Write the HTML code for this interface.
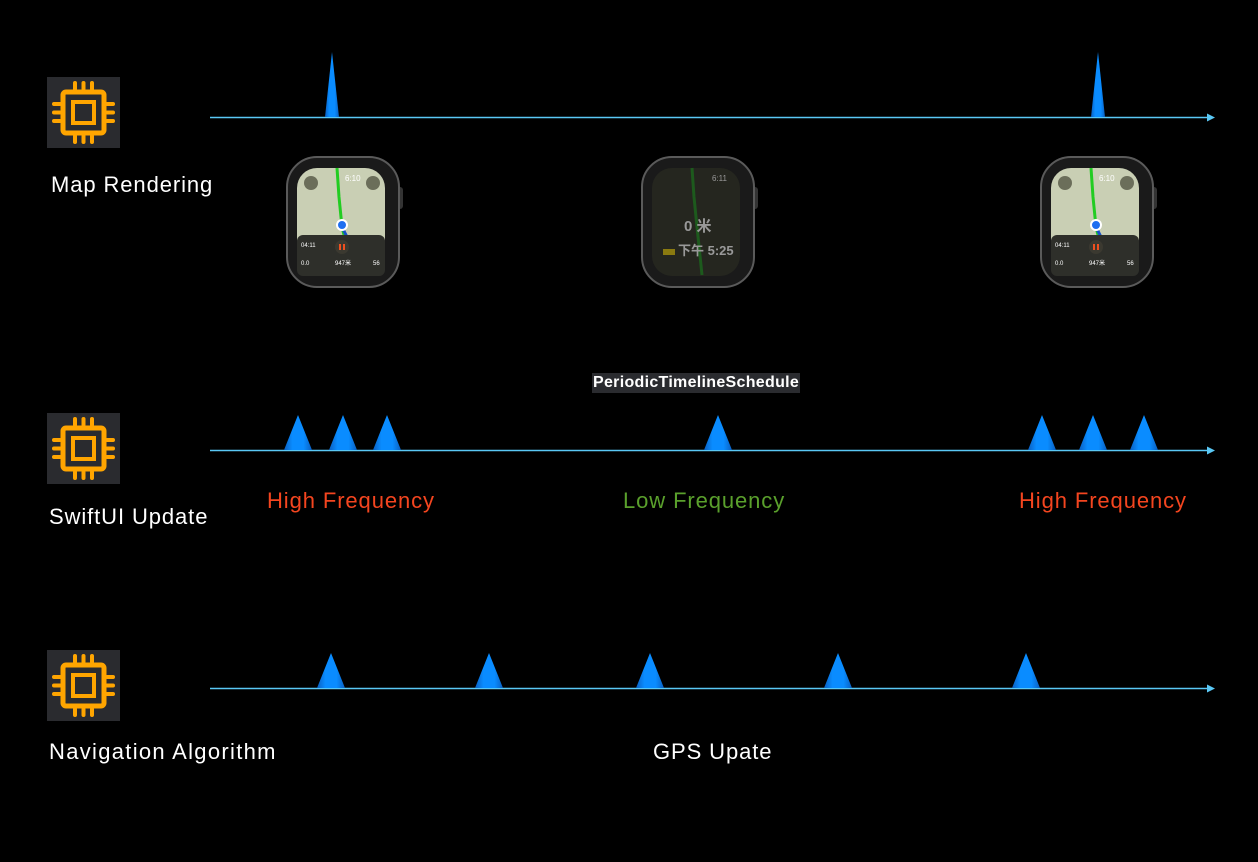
<!DOCTYPE html>
<html><head><meta charset="utf-8"><style>
html,body{margin:0;padding:0;background:#000;}
body{width:1258px;height:862px;position:relative;overflow:hidden;font-family:"Liberation Sans","Noto Sans CJK SC",sans-serif;}
.t{position:absolute;color:#fff;font-size:22px;white-space:nowrap;letter-spacing:0.9px;}
</style></head><body>
<svg width="1258" height="862" style="position:absolute;left:0;top:0">
<defs>
<linearGradient id="tg" x1="0" x2="1" y1="0" y2="0">
<stop offset="0" stop-color="#0a5fc0"/><stop offset="0.3" stop-color="#0a8cff"/><stop offset="0.7" stop-color="#0a8cff"/><stop offset="1" stop-color="#0a5fc0"/>
</linearGradient>
<g id="cpu">
<rect x="0" y="0" width="73" height="71" fill="#2a2b2f"/>
<rect x="16" y="15" width="41" height="41" rx="3" fill="none" stroke="#ffa500" stroke-width="5"/>
<rect x="26" y="25" width="21" height="21" fill="none" stroke="#ffa500" stroke-width="4"/>
<g stroke="#ffa500" stroke-width="4" stroke-linecap="round">
<line x1="28" y1="6" x2="28" y2="12"/><line x1="36.5" y1="6" x2="36.5" y2="12"/><line x1="45" y1="6" x2="45" y2="12"/>
<line x1="28" y1="59" x2="28" y2="65"/><line x1="36.5" y1="59" x2="36.5" y2="65"/><line x1="45" y1="59" x2="45" y2="65"/>
<line x1="7" y1="27" x2="13" y2="27"/><line x1="7" y1="35.5" x2="13" y2="35.5"/><line x1="7" y1="44" x2="13" y2="44"/>
<line x1="60" y1="27" x2="66" y2="27"/><line x1="60" y1="35.5" x2="66" y2="35.5"/><line x1="60" y1="44" x2="66" y2="44"/>
</g></g>
<polygon id="tri" points="-14,0 0,-35 14,0" fill="url(#tg)"/>
<g id="watch">
<rect x="110" y="30" width="6" height="22" rx="3" fill="#333"/>
<rect x="0" y="0" width="112" height="130" rx="30" fill="#1a1a1a" stroke="#5a5a5a" stroke-width="2"/>
<rect x="10" y="11" width="88" height="108" rx="20" fill="#c9cfb4"/>
<path d="M50 11 L52 40 L55 70 L60 90" stroke="#22cc22" stroke-width="3" fill="none"/>
<path d="M55 70 L62 84" stroke="#1550c8" stroke-width="3" fill="none"/>
<circle cx="55" cy="68" r="5" fill="#1e6ff0" stroke="#fff" stroke-width="2"/>
<circle cx="24" cy="26" r="7" fill="#6b6e5a"/>
<circle cx="86" cy="26" r="7" fill="#6b6e5a"/>
<text x="58" y="24" font-size="8" fill="#fff">6:10</text>
<rect x="10" y="78" width="88" height="41" fill="#2e2f2a" rx="6"/>
<text x="14" y="90" font-size="6" fill="#fff">04:11</text>
<text x="14" y="108" font-size="6" fill="#fff">0.0</text>
<text x="48" y="108" font-size="6" fill="#fff">947米</text>
<text x="86" y="108" font-size="6" fill="#fff">56</text>
<circle cx="55" cy="90" r="7" fill="#3b3930"/>
<rect x="52" y="87" width="2" height="6" fill="#f05020"/><rect x="56" y="87" width="2" height="6" fill="#f05020"/>
</g>
</defs>
<line x1="210" y1="117.5" x2="1208" y2="117.5" stroke="#5ac8f5" stroke-width="1.5"/>
<polygon points="1207,113.5 1215,117.5 1207,121.5" fill="#5ac8f5"/>
<polygon points="325,117 332,52 339,117" fill="url(#tg)"/>
<polygon points="1091,117 1098,52 1105,117" fill="url(#tg)"/>
<line x1="210" y1="450.5" x2="1208" y2="450.5" stroke="#5ac8f5" stroke-width="1.5"/>
<polygon points="1207,446.5 1215,450.5 1207,454.5" fill="#5ac8f5"/>
<use href="#tri" x="298" y="450"/><use href="#tri" x="343" y="450"/><use href="#tri" x="387" y="450"/>
<use href="#tri" x="718" y="450"/>
<use href="#tri" x="1042" y="450"/><use href="#tri" x="1093" y="450"/><use href="#tri" x="1144" y="450"/>
<line x1="210" y1="688.5" x2="1208" y2="688.5" stroke="#5ac8f5" stroke-width="1.5"/>
<polygon points="1207,684.5 1215,688.5 1207,692.5" fill="#5ac8f5"/>
<use href="#tri" x="331" y="688"/><use href="#tri" x="489" y="688"/><use href="#tri" x="650" y="688"/>
<use href="#tri" x="838" y="688"/><use href="#tri" x="1026" y="688"/>
<use href="#cpu" x="47" y="77"/>
<use href="#cpu" x="47" y="413"/>
<use href="#cpu" x="47" y="650"/>
<use href="#watch" x="287" y="157"/>
<use href="#watch" x="1041" y="157"/>
<g transform="translate(642,157)">
<rect x="110" y="30" width="6" height="22" rx="3" fill="#333"/>
<rect x="0" y="0" width="112" height="130" rx="30" fill="#1a1a1a" stroke="#5a5a5a" stroke-width="2"/>
<rect x="10" y="11" width="88" height="108" rx="20" fill="#25261f"/>
<path d="M50 11 L52 40 L55 70 L60 118" stroke="#1d5a1d" stroke-width="3" fill="none"/>
<text x="70" y="24" font-size="8" fill="#999">6:11</text>
<text x="42" y="74" font-size="15" font-weight="bold" fill="#999" font-family="Liberation Sans,Noto Sans CJK SC,sans-serif">0 米</text>
<text x="36" y="98" font-size="13" font-weight="bold" fill="#999" font-family="Liberation Sans,Noto Sans CJK SC,sans-serif">下午 5:25</text>
<rect x="21" y="92" width="12" height="6" fill="#8a7a10"/>
</g>
</svg>
<div class="t" style="left:51px;top:172px">Map Rendering</div>
<div class="t" style="left:49px;top:504px">SwiftUI Update</div>
<div class="t" style="left:49px;top:739px;letter-spacing:1.3px">Navigation Algorithm</div>
<div class="t" style="left:653px;top:739px">GPS Upate</div>
<div class="t" style="left:267px;top:488px;color:#f4451f">High Frequency</div>
<div class="t" style="left:623px;top:488px;color:#5aa02c">Low Frequency</div>
<div class="t" style="left:1019px;top:488px;color:#f4451f">High Frequency</div>
<div class="t" style="left:592px;top:373px;font-size:16px;font-weight:bold;background:#2a2b2f;padding:0 1px;line-height:20px;letter-spacing:0.3px">PeriodicTimelineSchedule</div>
</body></html>
